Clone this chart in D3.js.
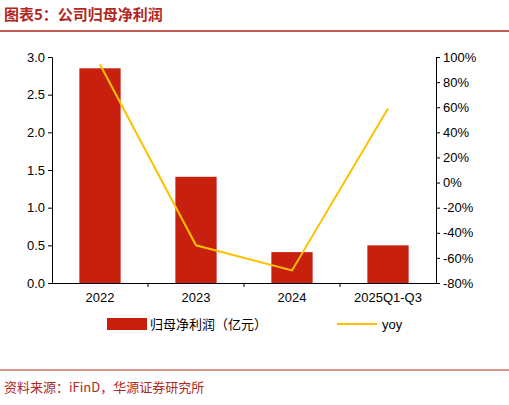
<!DOCTYPE html>
<html><head><meta charset="utf-8">
<script src="https://cdn.jsdelivr.net/npm/d3@7"></script>
<style>body{margin:0;background:#fff;font-family:"Noto Sans CJK SC",Arial,sans-serif}</style>
</head><body><div id="chart"></div>
<script>
const categories = ["2022", "2023", "2024", "2025Q1-Q3"];
const profit = [2.85, 1.41, 0.41, 0.50];
const yoy = [94, -50, -70, 59];
const leftTicks = [0, 0.5, 1, 1.5, 2, 2.5, 3];
const rightTicks = [-80, -60, -40, -20, 0, 20, 40, 60, 80, 100];

const W = 509, H = 405;
const svg = d3.select("#chart").append("svg").attr("width", W).attr("height", H);
const mLeft = 52, mRight = 436, mTop = 57, mBottom = 283;

// title
svg.append("text").attr("x", 4).attr("y", 20).attr("fill", "#B0281E")
  .attr("font-size", 15).attr("font-weight", "bold").text("图表5：公司归母净利润");
svg.append("line").attr("x1", 0).attr("x2", W).attr("y1", 31).attr("y2", 31)
  .attr("stroke", "#B0281E").attr("stroke-width", 1.5);

const x = d3.scaleBand().domain(categories).range([mLeft, mRight]).paddingInner(0.57).paddingOuter(0.285);
const y = d3.scaleLinear().domain([0, 3]).range([mBottom, mTop]);
const y2 = d3.scaleLinear().domain([-80, 100]).range([mBottom, mTop]);

svg.append("g").attr("transform", `translate(${mLeft},0)`)
  .call(d3.axisLeft(y).tickValues(leftTicks).tickFormat(d3.format(".1f")).tickSize(4))
  .call(g => g.selectAll("text").attr("font-size", 13).attr("font-family", "Arial").attr("fill", "#000"));
svg.append("g").attr("transform", `translate(${mRight},0)`)
  .call(d3.axisRight(y2).tickValues(rightTicks).tickFormat(d => d + "%").tickSize(4))
  .call(g => g.selectAll("text").attr("font-size", 13).attr("font-family", "Arial").attr("fill", "#000"));
svg.append("g").attr("transform", `translate(0,${mBottom})`)
  .call(d3.axisBottom(x).tickSize(0).tickPadding(10))
  .call(g => g.selectAll("text").attr("font-size", 13).attr("font-family", "Arial").attr("fill", "#000"));
// category separators
const step = x.step();
categories.slice(0, -1).forEach((c, i) => {
  const sx = x(c) + x.bandwidth() + (step - x.bandwidth()) / 2;
  svg.append("line").attr("x1", sx).attr("x2", sx).attr("y1", mBottom).attr("y2", mBottom + 4).attr("stroke", "#000");
});

svg.selectAll("rect.bar").data(profit).join("rect").attr("class", "bar")
  .attr("x", (d, i) => x(categories[i])).attr("width", x.bandwidth())
  .attr("y", d => y(d)).attr("height", d => mBottom - y(d)).attr("fill", "#C8200E");

svg.append("path").datum(yoy)
  .attr("d", d3.line().x((d, i) => x(categories[i]) + x.bandwidth() / 2).y(d => y2(d)))
  .attr("fill", "none").attr("stroke", "#FFC000").attr("stroke-width", 2);

// legend
svg.append("rect").attr("x", 107).attr("y", 318).attr("width", 40).attr("height", 12).attr("fill", "#C8200E");
svg.append("text").attr("x", 150).attr("y", 329).attr("font-size", 13).text("归母净利润（亿元）");
svg.append("line").attr("x1", 337).attr("x2", 377).attr("y1", 324).attr("y2", 324).attr("stroke", "#FFC000").attr("stroke-width", 2);
svg.append("text").attr("x", 382).attr("y", 329).attr("font-size", 13).attr("font-family", "Arial").text("yoy");

svg.append("line").attr("x1", 0).attr("x2", W).attr("y1", 370).attr("y2", 370)
  .attr("stroke", "#B0281E").attr("stroke-width", 1);
svg.append("text").attr("x", 4).attr("y", 392).attr("fill", "#B0281E").attr("font-size", 13)
  .text("资料来源：iFinD，华源证券研究所");
</script></body></html>
